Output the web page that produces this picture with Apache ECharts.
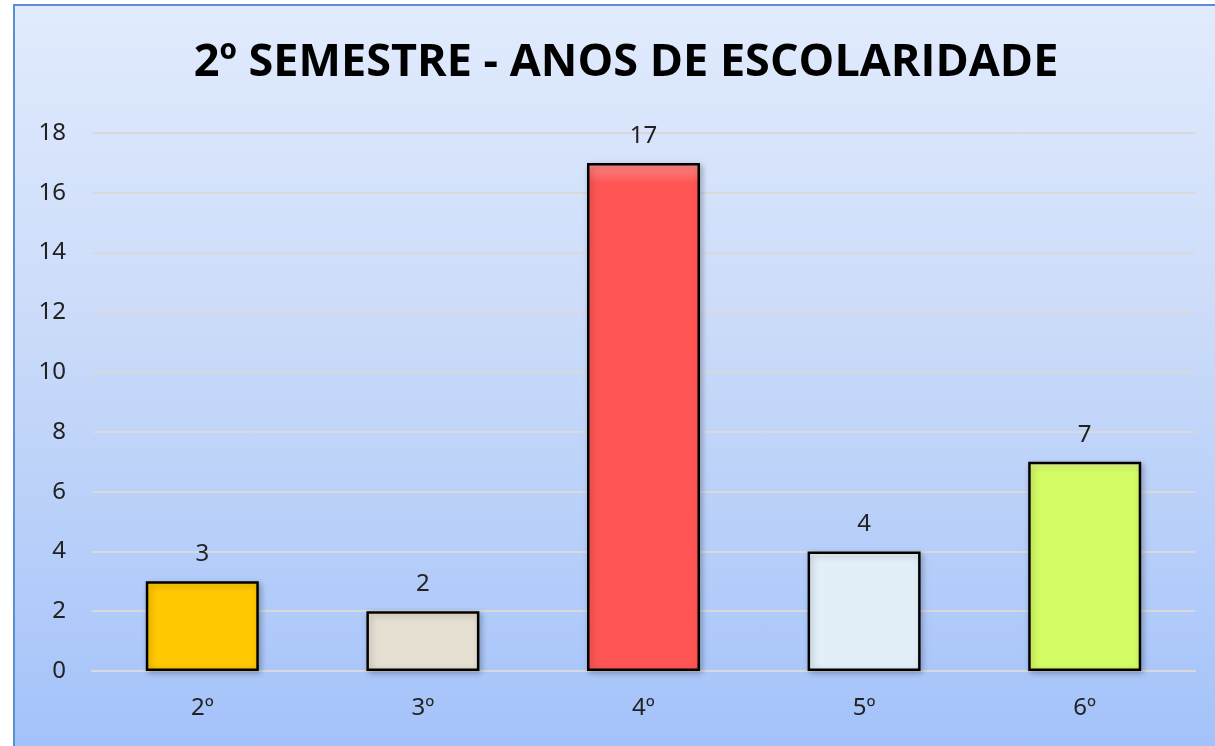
<!DOCTYPE html>
<html>
<head>
<meta charset="utf-8">
<script src="https://cdn.jsdelivr.net/npm/echarts@6/dist/echarts.min.js"></script>
<style>
  html, body { margin: 0; padding: 0; background: #fff; }
  .frame {
    position: absolute; left: 13px; top: 4px; width: 1210px; height: 750px;
    border: 2px solid #5b8fd0;
    background: linear-gradient(to bottom, #e1ebfd 0%, #c9daf9 45%, #a3c2fa 100%);
  }
  #chart { position: absolute; left: 0; top: 0; width: 1215px; height: 746px; }
</style>
</head>
<body>
<div class="frame"></div>
<div id="chart"></div>
<script>
const titleText = "2º SEMESTRE - ANOS DE ESCOLARIDADE";
const categories = ["2º", "3º", "4º", "5º", "6º"];
const values = [3, 2, 17, 4, 7];
const barColors = [
  ["#ffe44a", "#ffc800"],
  ["#faf8f2", "#e6e0d3"],
  ["#ff8a8a", "#ff5555"],
  ["#ffffff", "#e2eff9"],
  ["#f0ff9a", "#d4fc64"]
];

const myChart = echarts.init(document.getElementById("chart"));
myChart.setOption({
  backgroundColor: "transparent",
  title: {
    text: titleText,
    left: 621,
    textAlign: "center",
    top: 36,
    textStyle: {
      fontFamily: "Open Sans",
      fontWeight: "bold",
      fontSize: 45,
      color: "#000"
    }
  },
  grid: { left: 92, right: 20, top: 133, bottom: 75 },
  xAxis: {
    type: "category",
    data: categories,
    axisLine: { show: true, lineStyle: { color: "#d9d9d9", width: 2 } },
    axisTick: { show: false },
    axisLabel: {
      fontFamily: "Noto Sans",
      fontSize: 24,
      color: "#222",
      margin: 25
    }
  },
  yAxis: {
    type: "value",
    min: 0,
    max: 18,
    interval: 2,
    axisLine: { show: false },
    axisTick: { show: false },
    splitLine: { lineStyle: { color: "#d9d9d9", width: 2 } },
    axisLabel: {
      fontFamily: "Noto Sans",
      fontSize: 24,
      color: "#222",
      margin: 26
    }
  },
  series: [
    {
      type: "bar",
      barWidth: 113,
      data: values.map((v, i) => ({
        value: v,
        itemStyle: {
          color: new echarts.graphic.LinearGradient(0, 0, 0, 1, [
            { offset: 0, color: barColors[i][0] },
            { offset: 0.04, color: barColors[i][1] },
            { offset: 1, color: barColors[i][1] }
          ])
        }
      })),
      itemStyle: {
        borderColor: "#000",
        borderWidth: 2.5,
        shadowColor: "rgba(0,0,0,0.25)",
        shadowBlur: 6,
        shadowOffsetX: 2,
        shadowOffsetY: 2
      },
      label: {
        show: true,
        position: "top",
        distance: 15,
        fontFamily: "Noto Sans",
        fontSize: 24,
        color: "#222"
      }
    }
  ]
});
</script>
</body>
</html>
